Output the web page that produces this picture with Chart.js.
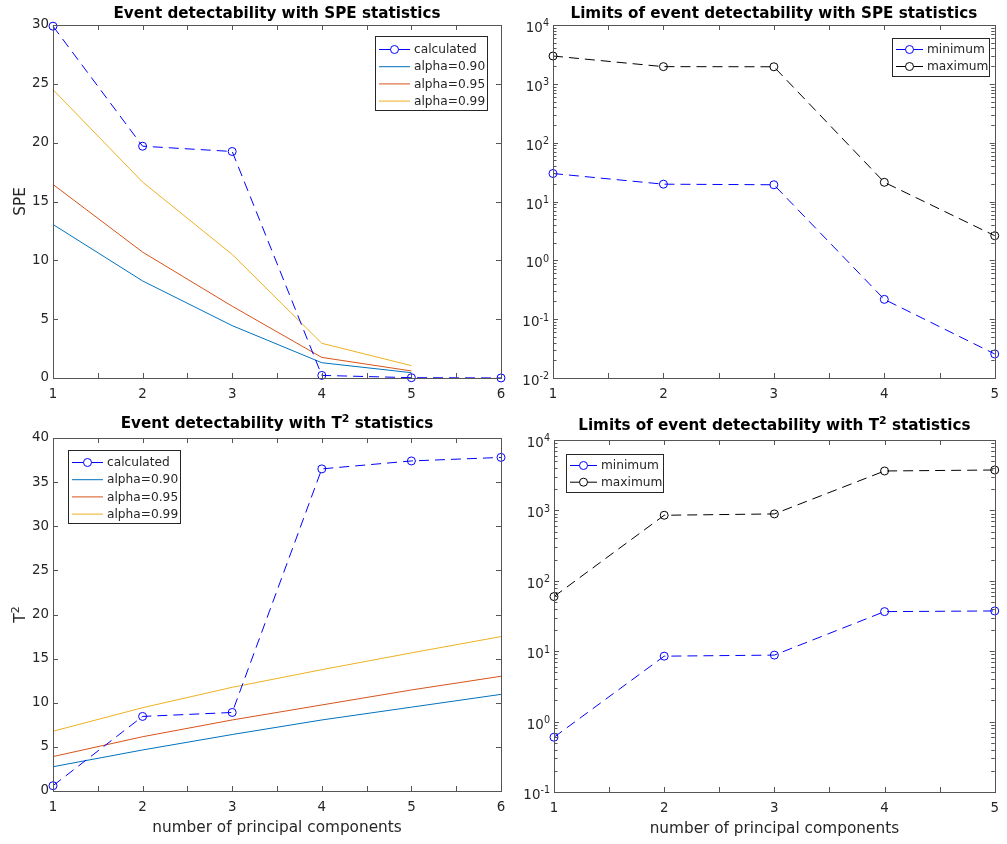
<!DOCTYPE html>
<html>
<head>
<meta charset="utf-8">
<script src="https://cdn.jsdelivr.net/npm/chart.js@4.4.1/dist/chart.umd.min.js"></script>
<style>
  body { margin: 0; background: #fff; }
  #wrap { position: relative; width: 1007px; height: 844px; }
  #wrap canvas { position: absolute; left: 0; top: 0; }
</style>
</head>
<body>
<div id="wrap">
  <canvas id="spe" width="1007" height="844"></canvas>
  <canvas id="speLim" width="1007" height="844"></canvas>
  <canvas id="t2" width="1007" height="844"></canvas>
  <canvas id="t2Lim" width="1007" height="844"></canvas>
</div>
<script>
// ---- Daten ----
const PCS6 = [1, 2, 3, 4, 5, 6];
const PCS5 = [1, 2, 3, 4, 5];

const SPE_CALC = [29.9, 19.7, 19.25, 0.22, 0.026, 0.004];
const SPE_A90  = [13.05, 8.25, 4.45, 1.3, 0.45];
const SPE_A95  = [16.45, 10.7, 6.1, 1.75, 0.6];
const SPE_A99  = [24.5, 16.65, 10.5, 2.95, 1.05];
const SPE_MIN  = [29.9, 19.7, 19.25, 0.217, 0.0256];
const SPE_MAX  = [2970, 1960, 1950, 21.2, 2.62];

const T2_CALC = [0.6, 8.45, 8.9, 36.5, 37.4, 37.8];
const T2_A90  = [2.75, 4.65, 6.4, 8.05, 9.5, 10.95];
const T2_A95  = [3.9, 6.15, 8.05, 9.75, 11.45, 13.0];
const T2_A99  = [6.77, 9.44, 11.75, 13.75, 15.65, 17.5];
const T2_MIN  = [0.6, 8.5, 8.8, 36.5, 37.3];
const T2_MAX  = [59.7, 853, 891, 3630, 3750];

const SPE_TICKS = [0, 5, 10, 15, 20, 25, 30];
const T2_TICKS  = [0, 5, 10, 15, 20, 25, 30, 35, 40];

// MATLAB-Farben
const C = {
  blue:  '#0000ff',
  black: '#000000',
  a90:   '#0072bd',
  a95:   '#d95319',
  a99:   '#edb120',
  axis:  '#262626',
  frame: '#555555'
};
const FONT = '"DejaVu Sans", Verdana, sans-serif';
const TICK_PX = 13.4;

// ----------------------------------------------------------
//  Text mit Hochstellung ("T^2") zeichnen
// ----------------------------------------------------------
function richParts(text) {
  const out = [];
  const re = /\^\{?([^}\s]+)\}?/g;
  let last = 0, m;
  while ((m = re.exec(text))) {
    if (m.index > last) out.push({ t: text.slice(last, m.index), sup: false });
    out.push({ t: m[1], sup: true });
    last = re.lastIndex;
  }
  if (last < text.length) out.push({ t: text.slice(last), sup: false });
  return out;
}
function drawRich(ctx, text, x, y, size, weight, align) {
  const parts = richParts(text);
  const fBase = `${weight} ${size}px ${FONT}`;
  const fSup  = `${weight} ${size * 0.72}px ${FONT}`;
  let total = 0;
  parts.forEach(p => { ctx.font = p.sup ? fSup : fBase; p.w = ctx.measureText(p.t).width; total += p.w; });
  let cx = align === 'center' ? x - total / 2 : align === 'right' ? x - total : x;
  ctx.textAlign = 'left';
  parts.forEach(p => {
    ctx.font = p.sup ? fSup : fBase;
    ctx.fillText(p.t, cx, p.sup ? y - size * 0.42 : y);
    cx += p.w;
  });
}

// ----------------------------------------------------------
//  Plugin: Rahmen, Ticks nach innen, Titel, Legende
// ----------------------------------------------------------
const matlabPlugin = {
  id: 'matlab',
  afterDraw(chart, args, o) {
    const ctx = chart.ctx;
    const a = chart.chartArea;
    const xs = chart.scales.x, ys = chart.scales.y;
    ctx.save();

    // Rahmen
    ctx.strokeStyle = C.frame;
    ctx.lineWidth = 1;
    ctx.strokeRect(Math.round(a.left) + 0.5, Math.round(a.top) + 0.5,
                   Math.round(a.right - a.left), Math.round(a.bottom - a.top));

    const tick = (x1, y1, x2, y2) => {
      ctx.beginPath(); ctx.moveTo(x1, y1); ctx.lineTo(x2, y2); ctx.stroke();
    };
    // x-Ticks alle 0.5
    for (let v = xs.min; v <= xs.max + 1e-9; v += 0.5) {
      const px = Math.round(xs.getPixelForValue(v)) + 0.5;
      tick(px, a.bottom, px, a.bottom - 5);
      tick(px, a.top, px, a.top + 5);
    }
    // y-Ticks
    if (o.log) {
      const lo = Math.round(Math.log10(ys.min)), hi = Math.round(Math.log10(ys.max));
      for (let d = lo; d <= hi; d++) {
        for (let k = 1; k <= 9; k++) {
          const v = k * Math.pow(10, d);
          if (v > ys.max * 1.0001) break;
          const py = Math.round(ys.getPixelForValue(v)) + 0.5;
          const len = k === 1 ? 5 : 3.5;
          tick(a.left, py, a.left + len, py);
          tick(a.right, py, a.right - len, py);
        }
        // Beschriftung 10^d
        const py = ys.getPixelForValue(Math.pow(10, d));
        ctx.fillStyle = C.axis;
        ctx.textBaseline = 'alphabetic';
        drawRich(ctx, '10^{' + d + '}', a.left - 4, py + 7, TICK_PX, 'normal', 'right');
      }
    } else {
      ys.ticks.forEach(t => {
        const py = Math.round(ys.getPixelForValue(t.value)) + 0.5;
        tick(a.left, py, a.left + 5, py);
        tick(a.right, py, a.right - 5, py);
      });
    }

    // Titel
    ctx.fillStyle = '#000';
    ctx.textBaseline = 'alphabetic';
    drawRich(ctx, o.title, (a.left + a.right) / 2, o.titleY, 15.2, 'bold', 'center');

    // Achsenbeschriftungen
    ctx.fillStyle = C.axis;
    if (o.xlabel) drawRich(ctx, o.xlabel, (a.left + a.right) / 2, a.bottom + 41, 15.3, 'normal', 'center');
    if (o.ylabel) {
      ctx.save();
      ctx.translate(o.ylabelX, (a.top + a.bottom) / 2);
      ctx.rotate(-Math.PI / 2);
      drawRich(ctx, o.ylabel, 0, 0, 15.3, 'normal', 'center');
      ctx.restore();
    }

    // Legende
    const L = o.legend;
    ctx.fillStyle = '#fff';
    ctx.fillRect(L.x, L.y, L.w, L.h);
    ctx.strokeStyle = C.axis;
    ctx.strokeRect(L.x + 0.5, L.y + 0.5, L.w, L.h);
    ctx.font = '12.2px ' + FONT;
    ctx.textAlign = 'left';
    ctx.textBaseline = 'middle';
    L.items.forEach((it, i) => {
      const y = L.row0 + i * L.step;
      ctx.strokeStyle = it.color;
      ctx.lineWidth = 1;
      ctx.setLineDash([]);
      tick(L.x + 4, y + 0.5, L.x + 4 + L.line, y + 0.5);
      if (it.marker) {
        ctx.fillStyle = '#fff';
        ctx.beginPath();
        ctx.arc(L.x + 4 + L.line / 2, y + 0.5, 4, 0, Math.PI * 2);
        ctx.fill(); ctx.stroke();
      }
      ctx.fillStyle = C.axis;
      ctx.fillText(it.label, L.x + 8 + L.line, y + 1);
    });
    ctx.restore();
  }
};

// ----------------------------------------------------------
//  Hilfsfunktionen
// ----------------------------------------------------------
function pts(xs, ys) { return ys.map((y, i) => ({ x: xs[i], y })); }

function calcSet(label, xs, ys, color) {
  return {
    label, data: pts(xs, ys), borderColor: color, borderWidth: 1,
    borderDash: [10, 6], pointStyle: 'circle', pointRadius: 4,
    pointBorderColor: color, pointBackgroundColor: 'rgba(0,0,0,0)',
    pointBorderWidth: 1, tension: 0, clip: false
  };
}
function limSet(label, xs, ys, color) {
  return {
    label, data: pts(xs, ys), borderColor: color, borderWidth: 1,
    pointRadius: 0, tension: 0, clip: false
  };
}

function makeChart(id, box, datasets, xMax, yCfg, plug) {
  const W = 50, H = 30;
  new Chart(document.getElementById(id), {
    type: 'line',
    data: { datasets },
    plugins: [matlabPlugin],
    options: {
      responsive: false,
      animation: false,
      events: [],
      layout: {
        padding: { left: box.left - W, top: box.top, right: 1007 - box.right, bottom: 844 - box.bottom - H }
      },
      plugins: {
        legend: { display: false },
        tooltip: { enabled: false },
        matlab: plug
      },
      scales: {
        x: {
          type: 'linear', min: 1, max: xMax,
          grid: { display: false, drawTicks: false },
          border: { display: false },
          afterFit: s => { s.height = H; },
          afterBuildTicks: s => { s.ticks = PCS6.filter(v => v <= xMax).map(v => ({ value: v })); },
          ticks: {
            padding: 8, color: C.axis, autoSkip: false, maxRotation: 0,
            font: { family: FONT, size: TICK_PX },
            callback: v => String(v)
          }
        },
        y: Object.assign({
          grid: { display: false, drawTicks: false },
          border: { display: false },
          afterFit: s => { s.width = W; }
        }, yCfg)
      }
    }
  });
}

function linY(max, ticks) {
  return {
    type: 'linear', min: 0, max,
    afterBuildTicks: s => { s.ticks = ticks.map(v => ({ value: v })); },
    ticks: { padding: 4, color: C.axis, autoSkip: false, font: { family: FONT, size: TICK_PX } }
  };
}
// Log-Achse: Beschriftung 10^n zeichnet das Plugin (mit Hochstellung)
function logY(min, max) {
  const dec = [];
  for (let e = Math.round(Math.log10(min)); e <= Math.round(Math.log10(max)); e++) dec.push(Math.pow(10, e));
  return {
    type: 'logarithmic', min, max,
    afterBuildTicks: s => { s.ticks = dec.map(v => ({ value: v })); },
    ticks: { padding: 4, autoSkip: false, font: { family: FONT, size: TICK_PX }, callback: () => '' }
  };
}

const SPE_LEGEND = [
  { label: 'calculated',  color: C.blue, marker: true },
  { label: 'alpha=0.90',  color: C.a90 },
  { label: 'alpha=0.95',  color: C.a95 },
  { label: 'alpha=0.99',  color: C.a99 }
];
const LIM_LEGEND = [
  { label: 'minimum', color: C.blue,  marker: true },
  { label: 'maximum', color: C.black, marker: true }
];

// ---- oben links: SPE ----
makeChart('spe', { left: 53, top: 25, right: 501, bottom: 378 }, [
  calcSet('calculated', PCS6, SPE_CALC, C.blue),
  limSet('alpha=0.90', PCS5, SPE_A90, C.a90),
  limSet('alpha=0.95', PCS5, SPE_A95, C.a95),
  limSet('alpha=0.99', PCS5, SPE_A99, C.a99)
], 6, linY(30, SPE_TICKS), {
  title: 'Event detectability with SPE statistics', titleY: 18,
  ylabel: 'SPE', ylabelX: 25,
  legend: { x: 375, y: 36, w: 112, h: 74, row0: 49, step: 17.2, line: 31, items: SPE_LEGEND }
});

// ---- oben rechts: Grenzen SPE ----
makeChart('speLim', { left: 553, top: 25, right: 1001, bottom: 378 }, [
  calcSet('minimum', PCS5, SPE_MIN, C.blue),
  calcSet('maximum', PCS5, SPE_MAX, C.black)
], 5, logY(0.01, 10000), {
  log: true,
  title: 'Limits of event detectability with SPE statistics', titleY: 18,
  legend: { x: 892, y: 38, w: 97, h: 38, row0: 49, step: 17, line: 27, items: LIM_LEGEND }
});

// ---- unten links: T² ----
makeChart('t2', { left: 53, top: 438, right: 501, bottom: 791 }, [
  calcSet('calculated', PCS6, T2_CALC, C.blue),
  limSet('alpha=0.90', PCS6, T2_A90, C.a90),
  limSet('alpha=0.95', PCS6, T2_A95, C.a95),
  limSet('alpha=0.99', PCS6, T2_A99, C.a99)
], 6, linY(40, T2_TICKS), {
  title: 'Event detectability with T^2 statistics', titleY: 428,
  xlabel: 'number of principal components',
  ylabel: 'T^2', ylabelX: 25,
  legend: { x: 68, y: 450, w: 112, h: 73, row0: 462, step: 17.2, line: 31, items: SPE_LEGEND }
});

// ---- unten rechts: Grenzen T² ----
makeChart('t2Lim', { left: 554, top: 440, right: 1002, bottom: 792 }, [
  calcSet('minimum', PCS5, T2_MIN, C.blue),
  calcSet('maximum', PCS5, T2_MAX, C.black)
], 5, logY(0.1, 10000), {
  log: true,
  title: 'Limits of event detectability with T^2 statistics', titleY: 430,
  xlabel: 'number of principal components',
  legend: { x: 566, y: 454, w: 97, h: 38, row0: 465, step: 16.7, line: 27, items: LIM_LEGEND }
});
</script>
</body>
</html>
